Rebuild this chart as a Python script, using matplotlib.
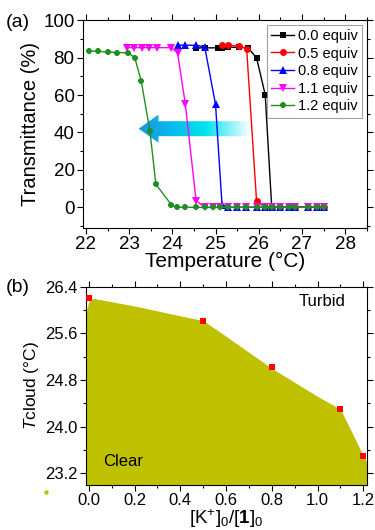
import numpy as np
import matplotlib.pyplot as plt
from matplotlib.patches import Polygon
from matplotlib.colors import LinearSegmentedColormap
from matplotlib.ticker import MultipleLocator

plt.rcParams['font.family'] = ['Liberation Sans', 'DejaVu Sans']
plt.rcParams['mathtext.fontset'] = 'custom'
plt.rcParams['mathtext.rm'] = 'Liberation Sans'
plt.rcParams['mathtext.it'] = 'Liberation Sans:italic'
plt.rcParams['mathtext.bf'] = 'Liberation Sans:bold'

# ---- panel (a): transmittance vs temperature ----
zero_T = [24.1, 24.3, 24.55, 24.75, 24.95, 25.1, 25.3, 25.5, 25.7, 25.95,
          26.15, 26.3, 26.5, 26.7, 26.85, 27.15, 27.35, 27.5]

T_00 = [24.55, 24.75, 25.05, 25.15, 25.3, 25.55, 25.75, 25.95, 26.15, 26.3,
        26.5, 26.7, 26.85, 27.15, 27.35, 27.5]
tr_00 = [85.2, 85.2, 85.2, 85.2, 85.6, 85.4, 85.3, 79.8, 60.2, 0.3,
         0, 0, 0, 0, 0, 0]

T_05 = [25.15, 25.3, 25.55, 25.72, 25.95, 26.15, 26.3, 26.5, 26.7, 26.85,
        27.15, 27.35, 27.5]
tr_05 = [86.8, 86.7, 86.0, 84.8, 3.2, 0, 0, 0, 0, 0, 0, 0, 0]

T_08 = [24.12, 24.3, 24.55, 24.75, 25.0, 25.15, 25.3, 25.5, 25.7, 25.95,
        26.15, 26.3, 26.5, 26.7, 26.85, 27.15, 27.35, 27.5]
tr_08 = [86.6, 86.6, 86.6, 85.7, 55.0, 1.4, 0, 0, 0, 0, 0, 0, 0, 0, 0, 0, 0, 0]

T_11 = [22.95, 23.12, 23.3, 23.47, 23.65, 23.97, 24.12, 24.3, 24.55, 24.75,
        24.95, 25.1, 25.3, 25.5, 25.7, 25.95, 26.15, 26.3, 26.5, 26.7, 26.85,
        27.15, 27.35, 27.5]
tr_11 = [85.3, 85.3, 85.3, 85.3, 85.3, 85.3, 82.7, 55.4, 3.6, 0,
         0, 0, 0, 0, 0, 0, 0, 0, 0, 0, 0, 0, 0, 0]

T_12 = [22.08, 22.27, 22.52, 22.73, 22.98, 23.13, 23.28, 23.48, 23.62, 23.98] + zero_T
tr_12 = [83.4, 83.4, 82.9, 82.7, 82.5, 80.0, 67.5, 41.0, 12.3, 1.3] + [0] * len(zero_T)

series = [
    ('0.0 equiv', T_00, tr_00, 'black', 's'),
    ('0.5 equiv', T_05, tr_05, 'red', 'o'),
    ('0.8 equiv', T_08, tr_08, 'blue', '^'),
    ('1.1 equiv', T_11, tr_11, 'magenta', 'v'),
    ('1.2 equiv', T_12, tr_12, '#1f8f1f', '8'),
]

# ---- panel (b): phase diagram ----
ratio = [0.0, 0.5, 0.8, 1.1, 1.2]
t_cloud = [26.2, 25.82, 25.02, 24.3, 23.5]
boundary_x = [-0.013, 0.0, 0.02, 0.2, 0.4, 0.5, 0.6, 0.8, 1.0, 1.1, 1.15, 1.2, 1.215]
boundary_y = [25.95, 26.15, 26.2, 26.07, 25.9, 25.82, 25.55, 25.0, 24.52, 24.3, 23.9, 23.5, 23.4]

fig = plt.figure(figsize=(3.75, 5.3), dpi=100)

# ===== (a) =====
ax1 = fig.add_axes([0.221, 0.570, 0.757, 0.392])
for lab, t, v, c, m in series:
    ms = 5.5 if m in ('^', 'v') else 5
    ax1.plot(t, v, color=c, marker=m, ms=ms, lw=1.0, label=lab, markeredgewidth=0)

# gradient arrow pointing left
tip, head_base, tail = 23.22, 23.68, 25.8
yc, hb, hh = 42.0, 4.0, 7.5
arrow = Polygon([[tip, yc], [head_base, yc + hh], [head_base, yc + hb],
                 [tail, yc + hb], [tail, yc - hb], [head_base, yc - hb],
                 [head_base, yc - hh]], closed=True, facecolor='none',
                edgecolor='none', transform=ax1.transData)
ax1.add_patch(arrow)
grad_cmap = LinearSegmentedColormap.from_list(
    'arr', [(0.0, '#1a98e0'), (0.25, '#0ab4ec'), (0.6, '#00e4ee'), (1.0, '#ffffff')])
grad = np.linspace(0, 1, 256).reshape(1, -1)
im = ax1.imshow(grad, cmap=grad_cmap, aspect='auto',
                extent=[tip, tail, yc - hh, yc + hh], zorder=1.5)
im.set_clip_path(arrow)

ax1.set_xlim(21.93, 28.5)
ax1.set_ylim(-11, 100)
ax1.xaxis.set_major_locator(MultipleLocator(1))
ax1.xaxis.set_minor_locator(MultipleLocator(0.5))
ax1.yaxis.set_major_locator(MultipleLocator(20))
ax1.yaxis.set_minor_locator(MultipleLocator(10))
ax1.tick_params(which='both', direction='out', top=True, right=True, labelsize=13.5, pad=2)
ax1.tick_params(which='major', length=4, width=0.8)
ax1.tick_params(which='minor', length=2.5, width=0.8)
ax1.set_xlabel('Temperature (°C)', fontsize=15, labelpad=-1)
ax1.set_ylabel('Transmittance (%)', fontsize=14.5, labelpad=2)
leg = ax1.legend(loc='upper right', fontsize=10.5, frameon=True, fancybox=False,
                 edgecolor='#888888', handlelength=1.6, handletextpad=0.25,
                 borderpad=0.3, labelspacing=0.25, borderaxespad=0.3)
leg.get_frame().set_linewidth(0.8)
fig.text(0.015, 0.958, '(a)', fontsize=14, va='center')

# ===== (b) =====
ax2 = fig.add_axes([0.229, 0.085, 0.749, 0.374])
ax2.fill_between(boundary_x, 23.0, boundary_y, color='#bfc000', lw=0)
ax2.plot(ratio, t_cloud, ls='none', marker='s', ms=4, color='red', markeredgewidth=0,
         clip_on=False, zorder=3)
ax2.set_xlim(-0.013, 1.215)
ax2.set_ylim(23.0, 26.4)
ax2.xaxis.set_major_locator(MultipleLocator(0.2))
ax2.xaxis.set_minor_locator(MultipleLocator(0.1))
ax2.set_yticks([23.2, 24.0, 24.8, 25.6, 26.4])
ax2.set_yticks([23.6, 24.4, 25.2, 26.0], minor=True)
ax2.yaxis.set_major_formatter(lambda v, p: f'{v:.1f}')
ax2.xaxis.set_major_formatter(lambda v, p: f'{v:.1f}')
ax2.tick_params(which='both', direction='out', top=True, right=True, labelsize=12, pad=2)
ax2.tick_params(which='major', length=4, width=0.8)
ax2.tick_params(which='minor', length=2.5, width=0.8)
ax2.set_xlabel(r'[K$^{+}$]$_0$/[$\mathbf{1}$]$_0$', fontsize=13.5, labelpad=-1)
ax2.set_ylabel(r'$T$cloud (°C)', fontsize=12.5, labelpad=3)
ax2.text(0.925, 0.925, 'Turbid', transform=ax2.transAxes, ha='right', va='center', fontsize=12)
ax2.text(0.06, 0.12, 'Clear', transform=ax2.transAxes, ha='left', va='center', fontsize=12)
fig.text(0.015, 0.458, '(b)', fontsize=14, va='center')
fig.add_artist(plt.Line2D([0.123], [1 - 492 / 530], marker='o', ms=2.2, color='#bfc000',
                          ls='none', transform=fig.transFigure))

fig.savefig('out.png', dpi=100)
